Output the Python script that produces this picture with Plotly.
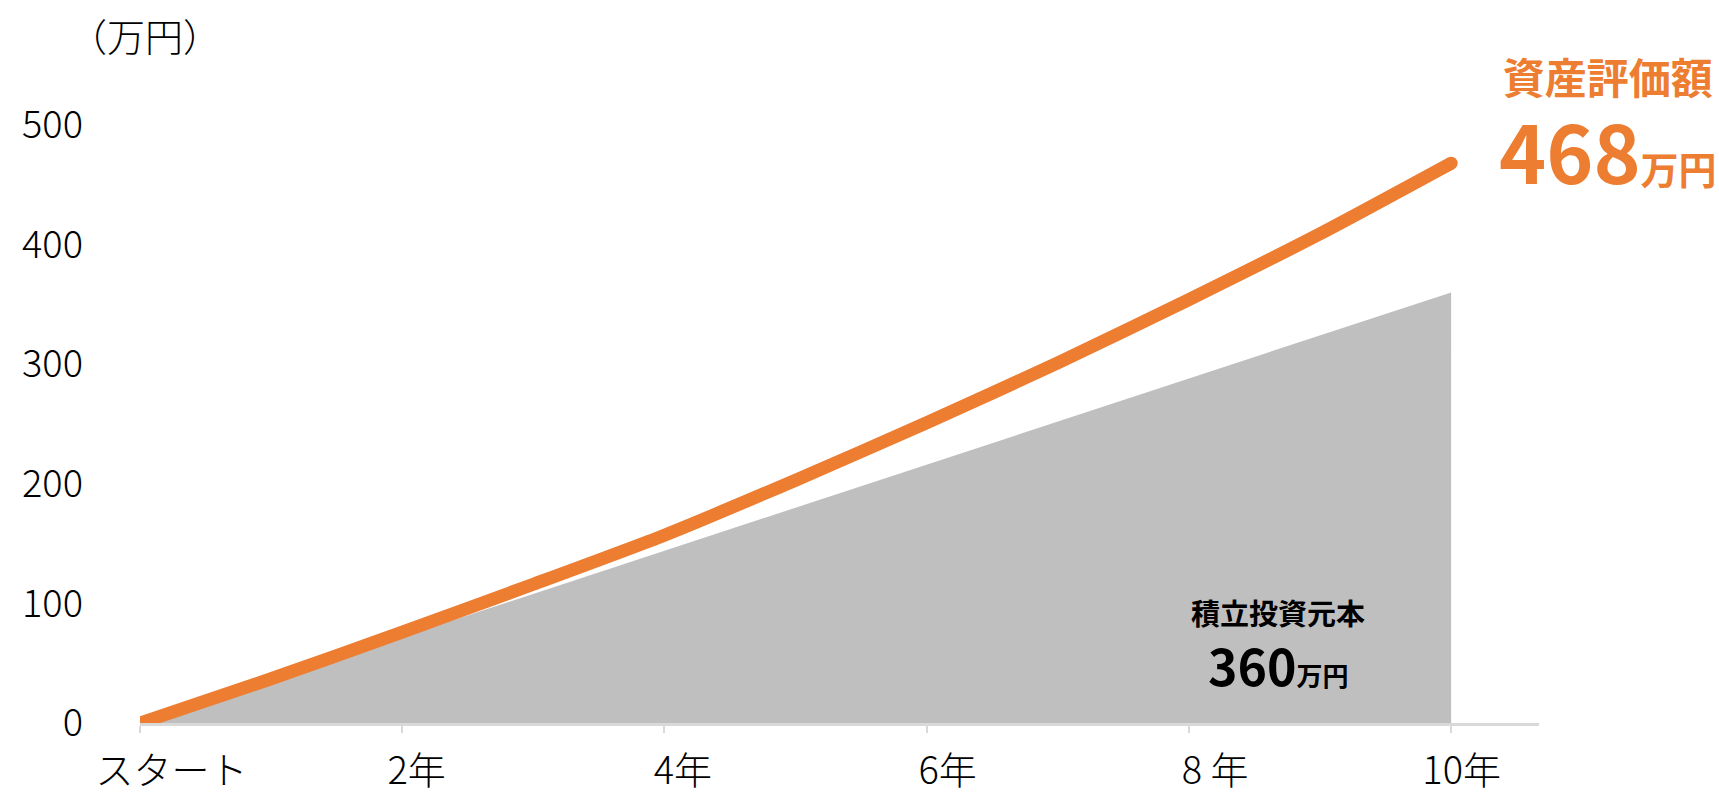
import plotly.graph_objects as go

# Years since start, and values in 万円
years = [0, 1, 2, 3, 4, 5, 6, 7, 8, 9, 10]
principal = [0, 36, 72, 108, 144, 180, 216, 252, 288, 324, 360]
asset_value = [0, 37, 76, 116, 157, 203, 251, 301, 354, 409, 468]

tick_years = [0, 2, 4, 6, 8, 10]
# label centres sit slightly right of their tick marks
label_years = [0.24, 2.11, 4.14, 6.16, 8.2, 10.08]
tick_labels = ["スタート", "2年", "4年", "6年", "8 年", "10年"]
y_ticks = [0, 100, 200, 300, 400, 500]

ORANGE = "#ED7D31"
GREY = "#BFBFBF"
AXIS = "#D9D9D9"
FONT = "Noto Sans CJK JP"

# plot area in pixels
W, H = 1719, 798
L, R, T, B = 140, 180, 101, 75
pw, ph = W - L - R, H - T - B


def px(xp):
    return (xp - L) / pw


def py(yp):
    return (H - B - yp) / ph


fig = go.Figure()

# Accumulated contributions (grey area)
fig.add_trace(go.Scatter(
    x=years, y=principal, mode="lines",
    line=dict(width=0, color=GREY),
    fill="tozeroy", fillcolor=GREY,
    hoverinfo="skip",
))

# Portfolio valuation (thick orange line)
fig.add_trace(go.Scatter(
    x=years, y=asset_value, mode="lines",
    line=dict(width=13, color=ORANGE, shape="spline", smoothing=0.6),
    hoverinfo="skip",
))
# rounded end cap on the last point
fig.add_trace(go.Scatter(
    x=[years[-1]], y=[asset_value[-1]], mode="markers",
    marker=dict(size=13, color=ORANGE, line=dict(width=0)),
    hoverinfo="skip",
))

# invisible trace that carries the second x axis for the year labels
fig.add_trace(go.Scatter(
    x=[years[0]], y=[principal[0]], xaxis="x2", mode="markers",
    marker=dict(size=1, opacity=0), hoverinfo="skip",
))

light = dict(size=38, color="black", family=FONT, weight=300)

annotations = [
    dict(text="（万円）", x=px(145), y=py(34), xref="paper", yref="paper",
         xanchor="center", yanchor="middle", showarrow=False, font=light),
    # valuation caption and amount as one two-line block
    dict(text=("<b><span style='font-size:42px'>資産評価額</span><br>"
               f"<span style='font-size:80px'>{asset_value[-1]}</span>"
               "<span style='font-size:38px'>万円</span></b>"),
         x=px(1608), y=py(126), xref="paper", yref="paper",
         xanchor="center", yanchor="middle", align="center",
         showarrow=False, font=dict(size=69, color=ORANGE, family=FONT)),
    dict(text="<b>積立投資元本</b>", x=px(1278), y=py(612),
         xref="paper", yref="paper", xanchor="center", yanchor="middle",
         showarrow=False, font=dict(size=29, color="black", family=FONT)),
    dict(text=(f"<b><span style='font-size:50px'>{principal[-1]}</span>"
               f"<span style='font-size:26px'>万円</span></b>"),
         x=px(1278), y=py(664), xref="paper", yref="paper",
         xanchor="center", yanchor="middle", showarrow=False,
         font=dict(size=50, color="black", family=FONT)),
]

x_range = [0, 10.67]

fig.update_layout(
    width=W, height=H,
    margin=dict(l=L, r=R, t=T, b=B),
    paper_bgcolor="white", plot_bgcolor="white",
    showlegend=False,
    font=dict(family=FONT, color="black"),
    annotations=annotations,
    xaxis=dict(
        range=x_range, tickvals=tick_years, showticklabels=False,
        ticks="outside", ticklen=7, tickwidth=1.5, tickcolor=AXIS,
        showline=True, linecolor=AXIS, linewidth=3,
        showgrid=False, zeroline=False, automargin=False,
    ),
    xaxis2=dict(
        range=x_range, overlaying="x", side="bottom", anchor="y",
        tickvals=label_years, ticktext=tick_labels,
        ticks="", showline=False, showgrid=False, zeroline=False,
        tickfont=light, ticklabelstandoff=22, automargin=False,
    ),
    yaxis=dict(
        range=[0, 520], tickvals=y_ticks,
        showline=False, ticks="", showgrid=False, zeroline=False,
        tickfont=light, ticklabelstandoff=56, automargin=False,
    ),
)

fig.write_html("out.html")
